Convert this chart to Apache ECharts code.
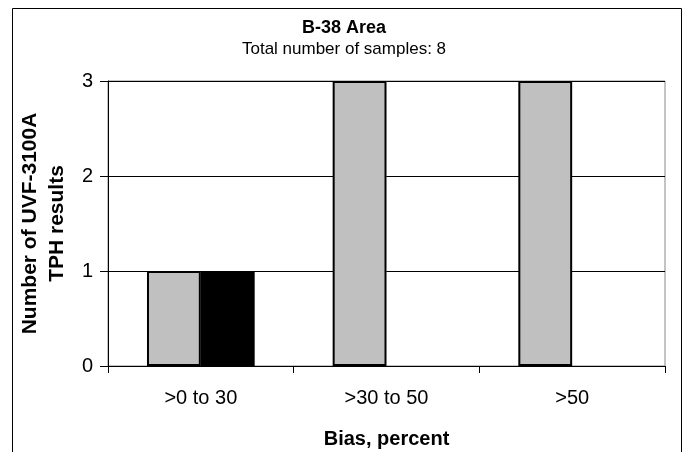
<!DOCTYPE html>
<html>
<head>
<meta charset="utf-8">
<script src="https://cdn.jsdelivr.net/npm/echarts@6/dist/echarts.min.js"></script>
<style>
html, body { margin: 0; padding: 0; background: #fff; }
#chart { width: 688px; height: 452px; }
</style>
</head>
<body>
<div id="chart"></div>
<script>
// data
var categories = ['>0 to 30', '>30 to 50', '>50']
var grayValues = [1, 3, 3]
var blackValues = [1, 0, 0]
var yTicks = { min: 0, max: 3, interval: 1 }

var font = 'Liberation Sans, Arial, sans-serif'
var chart = echarts.init(document.getElementById('chart'))

// zero-height bars get no outline
function barData(values) {
  return values.map(function(v) {
    return v === 0 ? { value: v, itemStyle: { borderWidth: 0 } } : v
  })
}

var option = {
  animation: false,
  backgroundColor: '#fff',
  title: {
    text: 'B-38 Area',
    subtext: 'Total number of samples: 8',
    left: 'center',
    top: 14,
    itemGap: 4,
    textStyle: { fontFamily: font, fontSize: 18, fontWeight: 'bold', color: '#000' },
    subtextStyle: { fontFamily: font, fontSize: 17, color: '#000' }
  },
  graphic: [{
    type: 'rect',
    shape: { x: 12.5, y: 8.5, width: 669, height: 460 },
    style: { fill: 'none', stroke: '#000', lineWidth: 1 },
    silent: true
  }],
  grid: {
    left: 108,
    right: 23,
    top: 81,
    bottom: 86,
    outerBoundsMode: 'none',
    show: true,
    borderColor: '#888',
    borderWidth: 1
  },
  xAxis: {
    type: 'category',
    data: categories,
    name: 'Bias, percent',
    nameLocation: 'middle',
    nameGap: 63,
    nameTextStyle: { fontFamily: font, fontSize: 20, fontWeight: 'bold', color: '#000' },
    axisLine: { lineStyle: { color: '#000', width: 1 } },
    axisTick: { show: true, length: 7, interval: 0, lineStyle: { color: '#000' } },
    axisLabel: { fontFamily: font, fontSize: 20, color: '#000', margin: 22 }
  },
  yAxis: {
    type: 'value',
    min: yTicks.min,
    max: yTicks.max,
    interval: yTicks.interval,
    name: 'Number of UVF-3100A\nTPH results',
    nameLocation: 'middle',
    nameRotate: 90,
    nameGap: 32,
    nameTextStyle: { fontFamily: font, fontSize: 21, fontWeight: 'bold', color: '#000', lineHeight: 27 },
    axisLine: { show: true, lineStyle: { color: '#000', width: 1 } },
    axisTick: { show: true, length: 8, lineStyle: { color: '#000' } },
    axisLabel: { fontFamily: font, fontSize: 20, color: '#000', margin: 15 },
    splitLine: { show: true, lineStyle: { color: '#000', width: 1 } }
  },
  series: [{
    name: 'gray',
    type: 'bar',
    data: barData(grayValues),
    barGap: '0%',
    barCategoryGap: '42%',
    itemStyle: { color: '#c0c0c0', borderColor: '#000', borderWidth: 2 }
  }, {
    name: 'black',
    type: 'bar',
    data: barData(blackValues),
    itemStyle: { color: '#000', borderColor: '#000', borderWidth: 2 }
  }]
}

chart.setOption(option)
</script>
</body>
</html>
